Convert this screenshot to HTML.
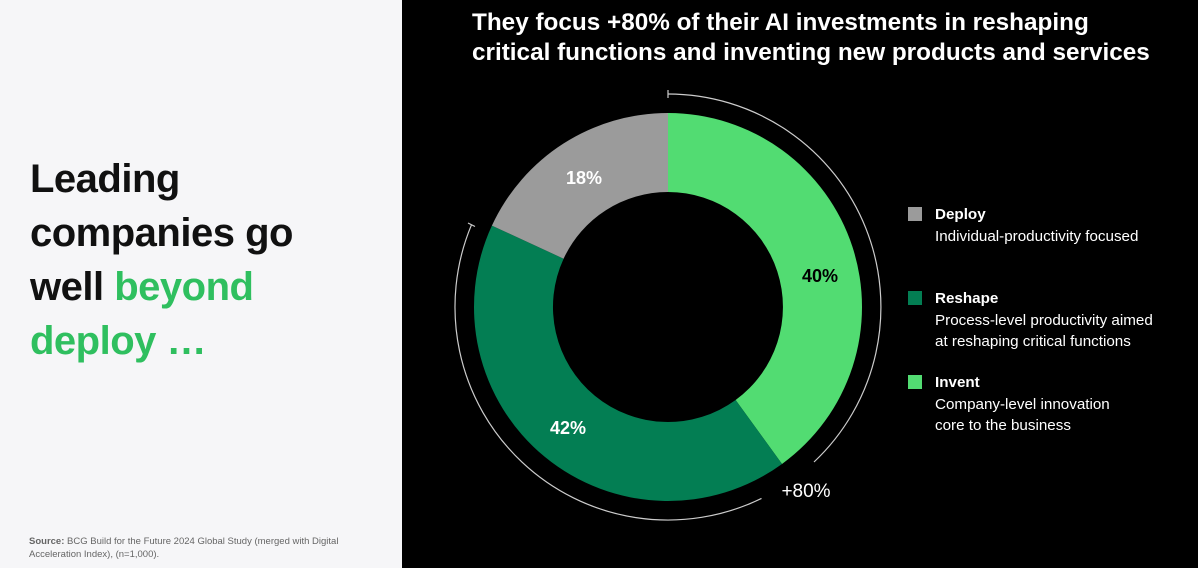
<!DOCTYPE html>
<html><head><meta charset="utf-8"><style>
body{margin:0;width:1198px;height:568px;overflow:hidden;font-family:"Liberation Sans",sans-serif;background:#000;position:relative}
.left{position:absolute;left:0;top:0;width:402px;height:568px;background:#f6f6f8}
.h{position:absolute;left:30px;top:152px;font-size:40px;font-weight:bold;line-height:54px;color:#111;letter-spacing:-0.5px}
.h span{color:#2fbf5f}
.src{position:absolute;left:29px;top:535px;font-size:9.5px;color:#666;line-height:13px}
.title{position:absolute;left:472px;top:8px;font-size:24.3px;font-weight:bold;color:#fff;line-height:30px}
.leg{position:absolute;left:908px;color:#fff;font-size:15.2px;line-height:21.5px}
.leg b{display:block}
.sw{position:absolute;left:0;top:3px;width:14px;height:14px}
.leg div{padding-left:27px;position:relative}
</style></head><body>
<div class="left">
<div class="h">Leading<br>companies go<br>well <span>beyond<br>deploy …</span></div>
<div class="src"><b>Source:</b> BCG Build for the Future 2024 Global Study (merged with Digital<br>Acceleration Index), (n=1,000).</div>
</div>
<div class="title">They focus +80% of their AI investments in reshaping<br>critical functions and inventing new products and services</div>
<svg width="1198" height="568" style="position:absolute;left:0;top:0">
<g transform="translate(668,307)">
<path d="M0,-194 A194,194 0 0 1 114.03,156.95 L67.6,93.0 A115,115 0 0 0 0,-115 Z" fill="#52dc72"/>
<path d="M114.03,156.95 A194,194 0 0 1 -176.1,-81.4 L-104.4,-48.3 A115,115 0 0 0 67.6,93.0 Z" fill="#037e53"/>
<path d="M-176.1,-81.4 A194,194 0 0 1 0,-194 L0,-115 A115,115 0 0 0 -104.4,-48.3 Z" fill="#9b9b9b"/>
<path d="M0,-213 A213,213 0 0 1 146,155" fill="none" stroke="#ccc" stroke-width="1.2"/>
<path d="M93.5,191.4 A213,213 0 0 1 -196.5,-82.2" fill="none" stroke="#ccc" stroke-width="1.2"/>
<line x1="0" y1="-217" x2="0" y2="-209" stroke="#ccc" stroke-width="1.2"/>
<line x1="-200" y1="-84" x2="-193" y2="-80.5" stroke="#ccc" stroke-width="1.2"/>
</g>
<g font-family="Liberation Sans" font-weight="bold" font-size="18">
<text x="584" y="184" fill="#fff" text-anchor="middle">18%</text>
<text x="820" y="282" fill="#000" text-anchor="middle">40%</text>
<text x="568" y="434" fill="#fff" text-anchor="middle">42%</text>
<text x="806" y="497" fill="#fff" text-anchor="middle" font-weight="normal" font-size="19">+80%</text>
</g>
</svg>
<div class="leg" style="top:204px"><div><span class="sw" style="background:#9b9b9b"></span><b>Deploy</b>Individual-productivity focused</div></div>
<div class="leg" style="top:288px"><div><span class="sw" style="background:#037e53"></span><b>Reshape</b>Process-level productivity aimed<br>at reshaping critical functions</div></div>
<div class="leg" style="top:372px"><div><span class="sw" style="background:#52dc72"></span><b>Invent</b>Company-level innovation<br>core to the business</div></div>
</body></html>
